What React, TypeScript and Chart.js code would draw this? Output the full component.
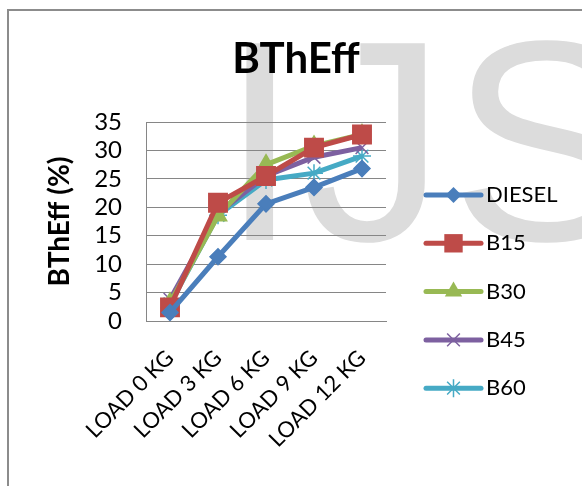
import React, { useEffect, useRef } from "react";
import { Chart, registerables } from "chart.js";

Chart.register(...registerables);

const categories = ["LOAD 0 KG", "LOAD 3 KG", "LOAD 6 KG", "LOAD 9 KG", "LOAD 12 KG"];
const seriesNames = ["DIESEL", "B15", "B30", "B45", "B60"];
const diesel = [1.5, 11.3, 20.6, 23.5, 26.8];
const b15 = [2.4, 20.8, 25.5, 30.5, 32.8];
const b30 = [3.2, 18.5, 27.5, 30.8, 32.8];
const b45 = [3.8, 19.0, 25.5, 28.8, 30.5];
const b60 = [3.0, 18.6, 24.8, 26.0, 29.0];
const yTicks = [0, 5, 10, 15, 20, 25, 30, 35];
const chartTitle = "BThEff";
const yTitle = "BThEff (%)";

const colors = ["#4A7EBB", "#BE4B48", "#98B954", "#7D60A0", "#46AAC5"];
const markers = ["rectRot", "rect", "triangle", "crossRot", "star"];
const radii = [8, 13, 10, 9, 9];

function drawMarker(ctx: CanvasRenderingContext2D, style: string, x: number, y: number, r: number, color: string) {
  ctx.save();
  ctx.fillStyle = color;
  ctx.strokeStyle = color;
  ctx.lineWidth = 1.5;
  ctx.beginPath();
  if (style === "rectRot") {
    ctx.moveTo(x - r, y); ctx.lineTo(x, y - r); ctx.lineTo(x + r, y); ctx.lineTo(x, y + r); ctx.closePath();
    ctx.fill();
  } else if (style === "rect") {
    const s = r * Math.SQRT1_2;
    ctx.rect(x - s, y - s, 2 * s, 2 * s); ctx.fill();
  } else if (style === "triangle") {
    const w = r * Math.cos(Math.PI / 6);
    ctx.moveTo(x, y - r); ctx.lineTo(x + w, y + r / 2); ctx.lineTo(x - w, y + r / 2); ctx.closePath(); ctx.fill();
  } else if (style === "crossRot") {
    const d = r * Math.SQRT1_2;
    ctx.moveTo(x - d, y - d); ctx.lineTo(x + d, y + d); ctx.moveTo(x - d, y + d); ctx.lineTo(x + d, y - d); ctx.stroke();
  } else if (style === "star") {
    const d = r * Math.SQRT1_2;
    ctx.moveTo(x - d, y - d); ctx.lineTo(x + d, y + d); ctx.moveTo(x - d, y + d); ctx.lineTo(x + d, y - d);
    ctx.moveTo(x - r, y); ctx.lineTo(x + r, y); ctx.moveTo(x, y - r); ctx.lineTo(x, y + r); ctx.stroke();
  }
  ctx.restore();
}

const legendPlugin = {
  id: "excelLegend",
  afterDraw(chart: any) {
    const ctx = chart.ctx as CanvasRenderingContext2D;
    const x0 = 426, x1 = 481, tx = 486, y0 = 195, dy = 48.3;
    chart.data.datasets.forEach((ds: any, i: number) => {
      const y = y0 + i * dy;
      ctx.save();
      ctx.strokeStyle = ds.borderColor;
      ctx.lineWidth = 5;
      ctx.lineCap = "round";
      ctx.beginPath(); ctx.moveTo(x0, y); ctx.lineTo(x1, y); ctx.stroke();
      ctx.restore();
      drawMarker(ctx, ds.pointStyle, (x0 + x1) / 2, y, ds.pointRadius, ds.borderColor);
      ctx.save();
      ctx.fillStyle = "#000";
      ctx.font = "22px Lato";
      ctx.textBaseline = "middle";
      ctx.textAlign = "left";
      ctx.fillText(ds.label, tx, y);
      ctx.restore();
    });
    // chart title
    ctx.save();
    ctx.fillStyle = "#000";
    ctx.font = "bold 42px Lato";
    ctx.textAlign = "center";
    ctx.textBaseline = "alphabetic";
    ctx.fillText(chartTitle, 296, 73);
    ctx.restore();
  },
};

export default function App() {
  const ref = useRef<HTMLCanvasElement>(null);
  useEffect(() => {
    const all = [diesel, b15, b30, b45, b60];
    const chart = new Chart(ref.current!, {
      type: "line",
      data: {
        labels: categories,
        datasets: all.map((d, i) => ({
          label: seriesNames[i],
          data: d,
          borderColor: colors[i],
          backgroundColor: colors[i],
          pointBackgroundColor: colors[i],
          pointBorderColor: colors[i],
          borderWidth: 5,
          pointStyle: markers[i] as any,
          pointRadius: radii[i],
          pointBorderWidth: 1.5,
          tension: 0,
          fill: false,
        })),
      },
      options: {
        animation: false,
        responsive: false,
        maintainAspectRatio: false,
        layout: { padding: { left: 0, right: 196, top: 122, bottom: 0 } },
        plugins: {
          legend: { display: false },
          tooltip: { enabled: false },
          title: { display: false },
        },
        scales: {
          x: {
            offset: true,
            grid: { display: false, drawTicks: false },
            border: { display: true, color: "#868686", width: 1 },
            ticks: {
              color: "#000",
              font: { family: "Lato", size: 22 },
              maxRotation: 45,
              minRotation: 45,
              autoSkip: false,
              padding: 24,
            },
            afterFit: (s: any) => { s.height = 165; },
          },
          y: {
            min: 0,
            max: 35,
            afterBuildTicks: (s: any) => { s.ticks = yTicks.map((v) => ({ value: v })); },
            grid: { color: "#868686", lineWidth: 1, drawTicks: false },
            border: { display: true, color: "#868686", width: 1 },
            ticks: { color: "#000", font: { family: "Lato", size: 24 }, padding: 24, autoSkip: false },
            title: {
              display: true,
              text: yTitle,
              color: "#000",
              font: { family: "Lato", size: 28, weight: "bold" },
              padding: { top: 43, bottom: 0 },
            },
            afterFit: (s: any) => { s.width = 146; },
          },
        },
      },
      plugins: [legendPlugin],
    });
    return () => chart.destroy();
  }, []);

  const wm: React.CSSProperties = {
    position: "absolute",
    top: -2,
    fontFamily: "'Liberation Sans'",
    fontSize: 286,
    lineHeight: "286px",
    color: "#dcdcdc",
    whiteSpace: "nowrap",
  };

  return (
    <div style={{ position: "fixed", left: 0, top: 0, width: 582, height: 486, overflow: "hidden", background: "#fff" }}>
      <span style={{ ...wm, left: 220 }}>I</span>
      <span style={{ ...wm, left: 303 }}>J</span>
      <span style={{ ...wm, left: 450 }}>S</span>
      <div style={{ position: "absolute", left: 7, top: 9, width: 600, height: 500, borderLeft: "2px solid #8c8c8c", borderTop: "2px solid #8c8c8c" }} />
      <canvas ref={ref} width={582} height={486} style={{ position: "absolute", left: 0, top: 0, width: 582, height: 486 }} />
    </div>
  );
}
